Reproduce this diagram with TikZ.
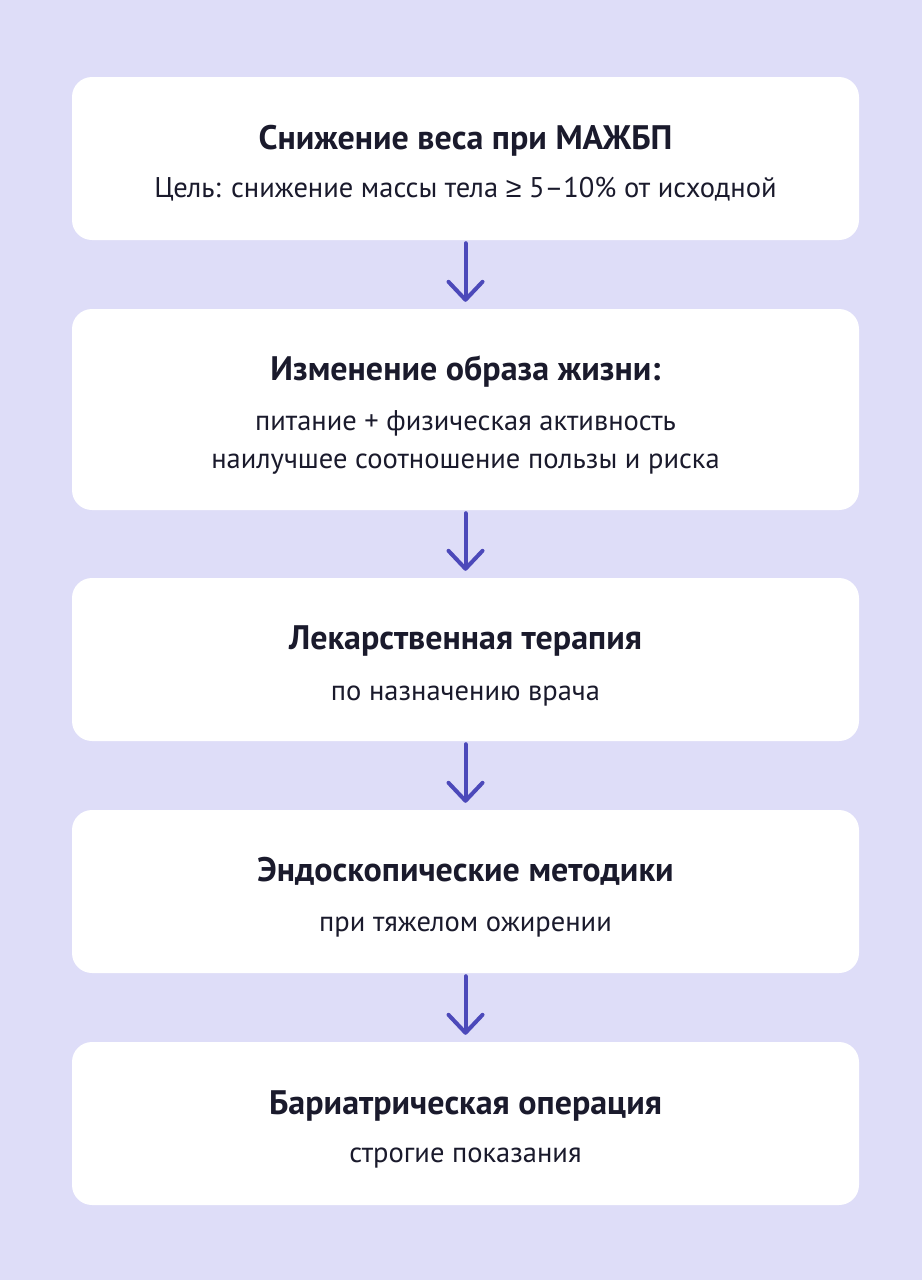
\documentclass[tikz,border=0pt]{standalone}
\usepackage{fontspec}
\setmainfont{PT Sans}
\newfontfamily\symfont{Liberation Sans}
\usetikzlibrary{arrows.meta,calc}
\definecolor{bgc}{HTML}{DEDDF8}
\definecolor{arrc}{HTML}{4C49BA}
\definecolor{txt}{HTML}{1A1A2C}
\tikzset{
  card/.style={fill=white,draw=none,rounded corners=20pt,minimum width=787pt,inner sep=0pt},
  ttl/.style={anchor=base,text=txt,font=\fontsize{34}{40}\selectfont\bfseries,inner sep=0pt},
  sub/.style={anchor=base,text=txt,font=\fontsize{28.5}{34}\selectfont,inner sep=0pt},
  flow/.style={draw=arrc,line width=4pt,line cap=round,-{Straight Barb[length=18pt,width=34pt,line width=4pt,line cap=round,line join=round]}}
}
\begin{document}
\begin{tikzpicture}[x=1pt,y=-1pt]
\fill[bgc] (0,0) rectangle (922,1280);
\useasboundingbox (0,0) rectangle (922,1280);
\node[card,minimum height=163pt] (b1) at (465.5,158.5) {};
\node[card,minimum height=201pt] (b2) at (465.5,409.5) {};
\node[card,minimum height=163pt] (b3) at (465.5,659.5) {};
\node[card,minimum height=163pt] (b4) at (465.5,891.5) {};
\node[card,minimum height=163pt] (b5) at (465.5,1123.5) {};
\node[ttl] (t1) at (465.5,149) {Снижение веса при МАЖБП};
\node[sub] (s1) at (465.5,197) {Цель: снижение массы тела {\symfont ≥} 5–10\% от исходной};
\node[ttl] (t2) at (465.5,380) {Изменение образа жизни:};
\node[sub] (s2a) at (465.5,430) {питание + физическая активность};
\node[sub] (s2b) at (465.5,468) {наилучшее соотношение пользы и риска};
\node[ttl] (t3) at (465.5,649) {Лекарственная терапия};
\node[sub] (s3) at (465.5,700) {по назначению врача};
\node[ttl] (t4) at (465.5,881) {Эндоскопические методики};
\node[sub] (s4) at (465.5,931) {при тяжелом ожирении};
\node[ttl] (t5) at (465.5,1114) {Бариатрическая операция};
\node[sub] (s5) at (465.5,1162) {строгие показания};
\draw[flow] ($(b1.south)+(0,3)$) -- ($(b2.north)+(0,-7)$);
\draw[flow] ($(b2.south)+(0,3)$) -- ($(b3.north)+(0,-7)$);
\draw[flow] ($(b3.south)+(0,3)$) -- ($(b4.north)+(0,-7)$);
\draw[flow] ($(b4.south)+(0,3)$) -- ($(b5.north)+(0,-7)$);
\end{tikzpicture}
\end{document}
